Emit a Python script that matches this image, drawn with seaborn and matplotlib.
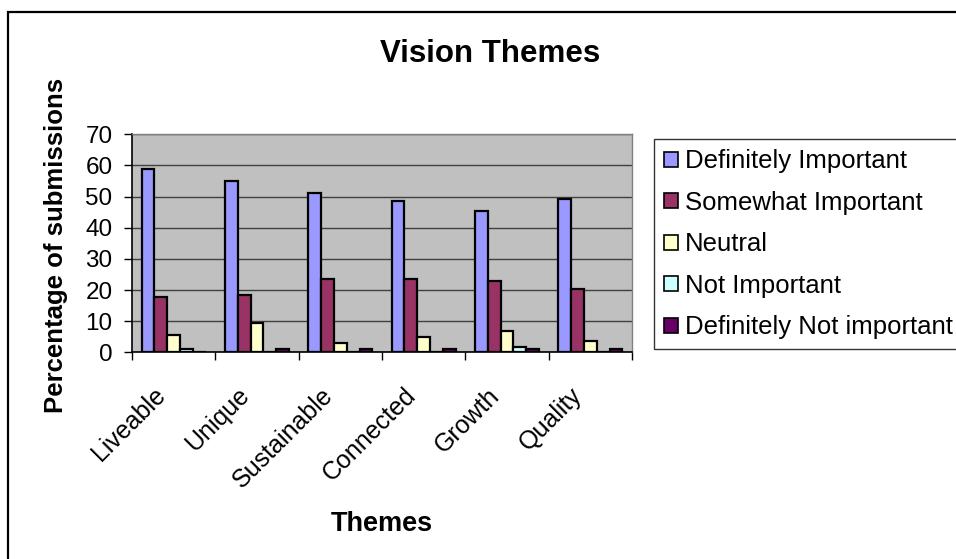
import matplotlib
matplotlib.use("Agg")
import matplotlib.pyplot as plt
import matplotlib.transforms as mtransforms
import seaborn as sns
import pandas as pd
import numpy as np
from matplotlib.patches import Rectangle

themes = ["Liveable", "Unique", "Sustainable", "Connected", "Growth", "Quality"]
series = ["Definitely Important", "Somewhat Important", "Neutral",
          "Not Important", "Definitely Not important"]
definitely_important = [59.0, 55.0, 51.3, 48.7, 45.5, 49.3]
somewhat_important = [17.9, 18.5, 23.6, 23.6, 22.9, 20.3]
neutral = [5.6, 9.5, 3.1, 5.0, 6.9, 3.7]
not_important = [1.2, 0.0, 0.0, 0.0, 1.8, 0.0]
definitely_not_important = [0.0, 1.2, 1.2, 1.2, 1.2, 1.2]
yticks = [0, 10, 20, 30, 40, 50, 60, 70]
colors = ["#9999FF", "#993366", "#FFFFCC", "#CCFFFF", "#660066"]

values = [definitely_important, somewhat_important, neutral,
          not_important, definitely_not_important]
rows = []
for s, vals in zip(series, values):
    for t, v in zip(themes, vals):
        rows.append({"Theme": t, "Response": s, "Value": v})
df = pd.DataFrame(rows)

sns.set_style("white")
plt.rcParams["font.family"] = ["Liberation Sans", "DejaVu Sans"]
plt.rcParams["text.color"] = "black"
plt.rcParams["axes.labelcolor"] = "black"
plt.rcParams["xtick.color"] = "black"
plt.rcParams["ytick.color"] = "black"

fig = plt.figure(figsize=(9.56, 5.59), dpi=100)
W, H = 956, 559
ax = fig.add_axes([132 / W, 1 - 352.3 / H, 500 / W, 218 / H])
ax.set_facecolor("#C0C0C0")

sns.barplot(data=df, x="Theme", y="Value", hue="Response", order=themes,
            hue_order=series, palette=colors, width=0.77, gap=0,
            edgecolor="black", linewidth=1.6, saturation=1, ax=ax,
            errorbar=None)

ax.set_ylim(0, 70)
ax.set_xlim(-0.5, 5.5)
ax.set_yticks(yticks)
ax.set_yticklabels([str(v) for v in yticks], fontsize=17.5)
ax.set_xticks(np.arange(len(themes)))
ax.set_xticklabels(themes, rotation=45, ha="right", va="top",
                   rotation_mode="anchor", fontsize=18)
ax.set_xticks(np.arange(-0.5, len(themes), 1), minor=True)
ax.tick_params(axis="x", which="major", length=0, pad=0)
ax.tick_params(axis="x", which="minor", length=6, width=1, color="black",
               direction="out", bottom=True)
ax.tick_params(axis="y", length=6, width=1, color="black", direction="out",
               left=True, pad=8)
offset = mtransforms.ScaledTranslation(-20 / 100, -31 / 100, fig.dpi_scale_trans)
for lab in ax.get_xticklabels():
    lab.set_transform(lab.get_transform() + offset)

ax.yaxis.grid(True, color="#404040", linewidth=1)
ax.set_axisbelow(True)
for side in ["left", "bottom"]:
    ax.spines[side].set_color("black")
    ax.spines[side].set_linewidth(1.2)
for side in ["top", "right"]:
    ax.spines[side].set_color("#808080")
    ax.spines[side].set_linewidth(1)

ax.set_xlabel("Themes", fontsize=19.5, fontweight="bold")
ax.set_ylabel("Percentage of submissions", fontsize=18.5, fontweight="bold")
ax.xaxis.set_label_coords(0.5, -0.73)
ax.yaxis.set_label_coords(-0.128, 0.49)

fig.text(490 / W, 1 - 54 / H, "Vision Themes", fontsize=22.5,
         fontweight="bold", ha="center", va="center")

leg = ax.legend(loc="upper left", bbox_to_anchor=(654 / W, 1 - 139 / H),
                bbox_transform=fig.transFigure, fontsize=18.5, frameon=True,
                fancybox=False, handlelength=0.52, handleheight=0.52,
                handletextpad=0.3, labelspacing=0.68, borderpad=0.4,
                borderaxespad=0, title=None)
leg.get_frame().set_edgecolor("black")
leg.get_frame().set_linewidth(1)
for h in leg.legend_handles:
    h.set_edgecolor("black")
    h.set_linewidth(1.2)

border = Rectangle((8 / W, -0.2), 1.2, 1.2 - 12 / H, transform=fig.transFigure,
                   fill=False, edgecolor="black", linewidth=1.6, clip_on=False)
fig.patches.append(border)

fig.savefig("out.png", dpi=100)
